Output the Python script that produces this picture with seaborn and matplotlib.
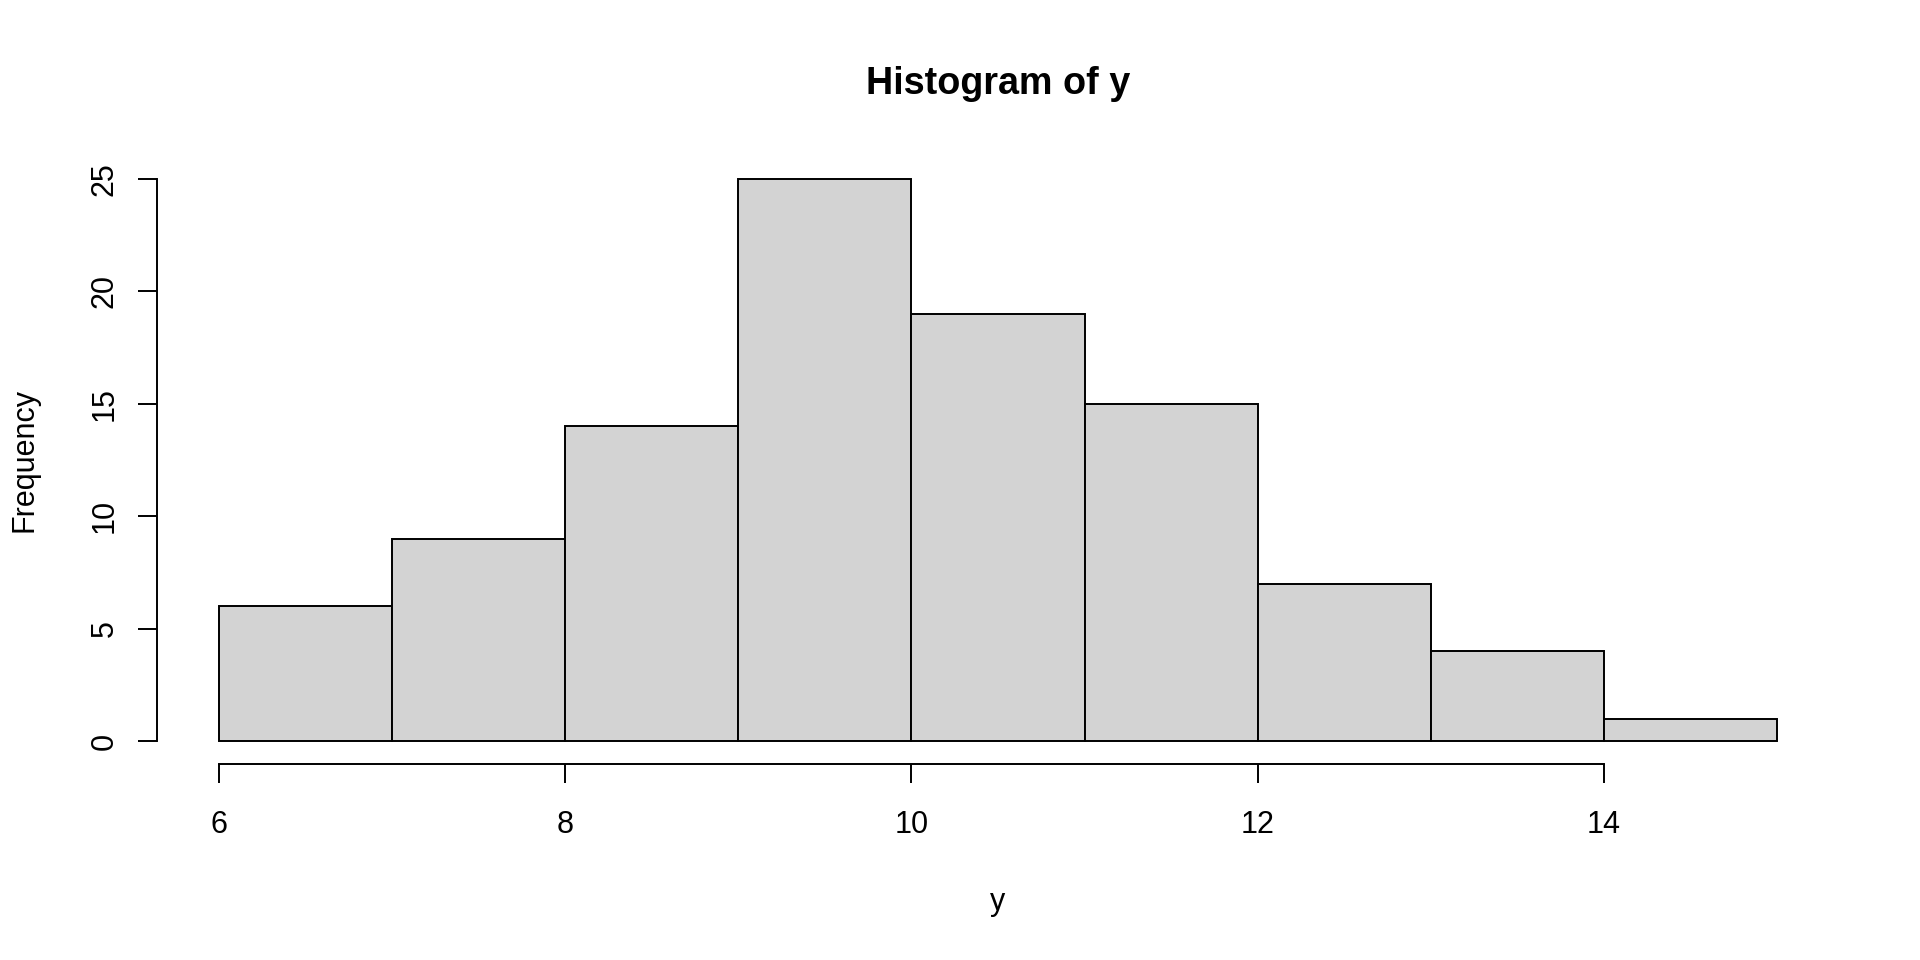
import numpy as np
import pandas as pd
import matplotlib
matplotlib.use("Agg")
import matplotlib.pyplot as plt
import seaborn as sns

# bin edges and counts
bin_edges = [6, 7, 8, 9, 10, 11, 12, 13, 14, 15]
counts = [6, 9, 14, 25, 19, 15, 7, 4, 1]
x_ticks = [6, 8, 10, 12, 14]
y_ticks = [0, 5, 10, 15, 20, 25]

sns.set_style("ticks")
plt.rcParams['font.family'] = ['Liberation Sans', 'DejaVu Sans']
plt.rcParams['text.color'] = 'black'
plt.rcParams['axes.labelcolor'] = 'black'

df = pd.DataFrame({"y": [e + 0.5 for e in bin_edges[:-1]], "n": counts})

fig = plt.figure(figsize=(19.2, 9.6), dpi=100)
ax = fig.add_axes([157 / 1920, (960 - 763.5) / 960, (1839 - 157) / 1920, 607 / 960])

sns.histplot(data=df, x="y", weights="n", bins=bin_edges, color="#d3d3d3",
             alpha=1, edgecolor="black", linewidth=1.4, ax=ax)

# R style: 4% padding, axis lines only over tick range
ax.set_xlim(bin_edges[0] - 0.04 * (bin_edges[-1] - bin_edges[0]),
            bin_edges[-1] + 0.04 * (bin_edges[-1] - bin_edges[0]))
ax.set_ylim(-0.04 * max(counts), max(counts) * 1.04)
ax.spines['top'].set_visible(False)
ax.spines['right'].set_visible(False)
ax.spines['left'].set_bounds(y_ticks[0], y_ticks[-1])
ax.spines['bottom'].set_bounds(x_ticks[0], x_ticks[-1])
for s in ['left', 'bottom']:
    ax.spines[s].set_linewidth(1.4)
    ax.spines[s].set_color("black")

ax.set_xticks(x_ticks)
ax.set_yticks(y_ticks)
ax.tick_params(axis='both', length=13.7, width=1.4, color="black", labelsize=22, labelcolor="black")
ax.tick_params(axis='x', pad=20)
ax.tick_params(axis='y', pad=13)
for lab in ax.get_yticklabels():
    lab.set_rotation(90)
    lab.set_va('center')
    lab.set_ha('right')

ax.set_xlabel("y", fontsize=22)
ax.set_ylabel("Frequency", fontsize=22)
ax.xaxis.set_label_coords(0.5, (763.5 - 902) / 607)
ax.xaxis.label.set_va('center')
ax.yaxis.set_label_coords((24.5 - 157) / 1682, 0.5)
ax.yaxis.label.set_va('center')
ax.set_title("Histogram of y", fontsize=27.2, fontweight='bold', color='black',
             y=(156.5 - 84) / 607 + 1, va='center', pad=0)

fig.savefig("out.png", dpi=100, facecolor="white")
